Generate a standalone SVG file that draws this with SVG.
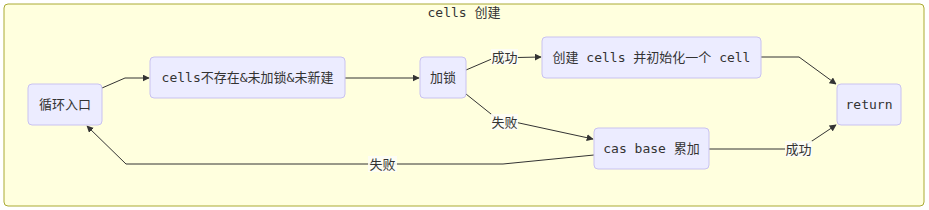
<svg xmlns="http://www.w3.org/2000/svg" width="929" height="210" viewBox="0 0 929 210">
<defs>
<style>
.cluster{fill:#ffffde;stroke:#aaaa33;stroke-width:1}
.node rect{fill:#ececff;stroke:#c9c2f0;stroke-width:1}
text{font-family:"DejaVu Sans Mono","Noto Sans CJK SC",monospace;font-size:13px;fill:#333}
.edge{fill:none;stroke:#333;stroke-width:1}
.lbl rect{fill:#fdfdf6;opacity:0.9}
</style>
<marker id="arr" viewBox="0 0 10 10" refX="9" refY="5" markerWidth="7" markerHeight="7" orient="auto" markerUnits="userSpaceOnUse">
<path d="M0,0 L10,5 L0,10 z" fill="#333"/>
</marker>
</defs>
<rect class="cluster" x="4" y="4" width="920" height="202" rx="4"/>
<text x="464" y="17" text-anchor="middle">cells 创建</text>
<g id="edges">
<path class="edge" d="M102,88 L125,78 L149,78" marker-end="url(#arr)"/>
<path class="edge" d="M345,78 L419,78" marker-end="url(#arr)"/>
<path class="edge" d="M466,70 L494,58 L541,57" marker-end="url(#arr)"/>
<path class="edge" d="M466,94 L496,118 L593,139" marker-end="url(#arr)"/>
<path class="edge" d="M761,57 L799,57 L836,84" marker-end="url(#arr)"/>
<path class="edge" d="M709,149 L800,149 L836,125" marker-end="url(#arr)"/>
<path class="edge" d="M594,155 L503,164 L126,164 L87,126" marker-end="url(#arr)"/>
<g class="lbl"><rect x="491" y="49" width="27" height="16"/><text x="504.5" y="62" text-anchor="middle">成功</text></g>
<g class="lbl"><rect x="491" y="114" width="27" height="16"/><text x="504.5" y="127" text-anchor="middle">失败</text></g>
<g class="lbl"><rect x="368" y="156" width="29" height="16"/><text x="382.5" y="169" text-anchor="middle">失败</text></g>
<g class="lbl"><rect x="785" y="141" width="27" height="16"/><text x="798.5" y="154" text-anchor="middle">成功</text></g>
</g>
<g id="n1" class="node"><rect x="28" y="84" width="74" height="41" rx="4"/><text x="65" y="109" text-anchor="middle">循环入口</text></g>
<g id="n2" class="node"><rect x="150" y="57" width="195" height="41" rx="4"/><text x="247.5" y="82" text-anchor="middle">cells不存在&amp;未加锁&amp;未新建</text></g>
<g id="n3" class="node"><rect x="420" y="57" width="46" height="41" rx="4"/><text x="443" y="82" text-anchor="middle">加锁</text></g>
<g id="n4" class="node"><rect x="542" y="37" width="219" height="41" rx="4"/><text x="651.5" y="62" text-anchor="middle">创建 cells 并初始化一个 cell</text></g>
<g id="n5" class="node"><rect x="837" y="84" width="64" height="41" rx="4"/><text x="869" y="109" text-anchor="middle">return</text></g>
<g id="n6" class="node"><rect x="594" y="128" width="115" height="41" rx="4"/><text x="651.5" y="153" text-anchor="middle">cas base 累加</text></g>
</svg>
